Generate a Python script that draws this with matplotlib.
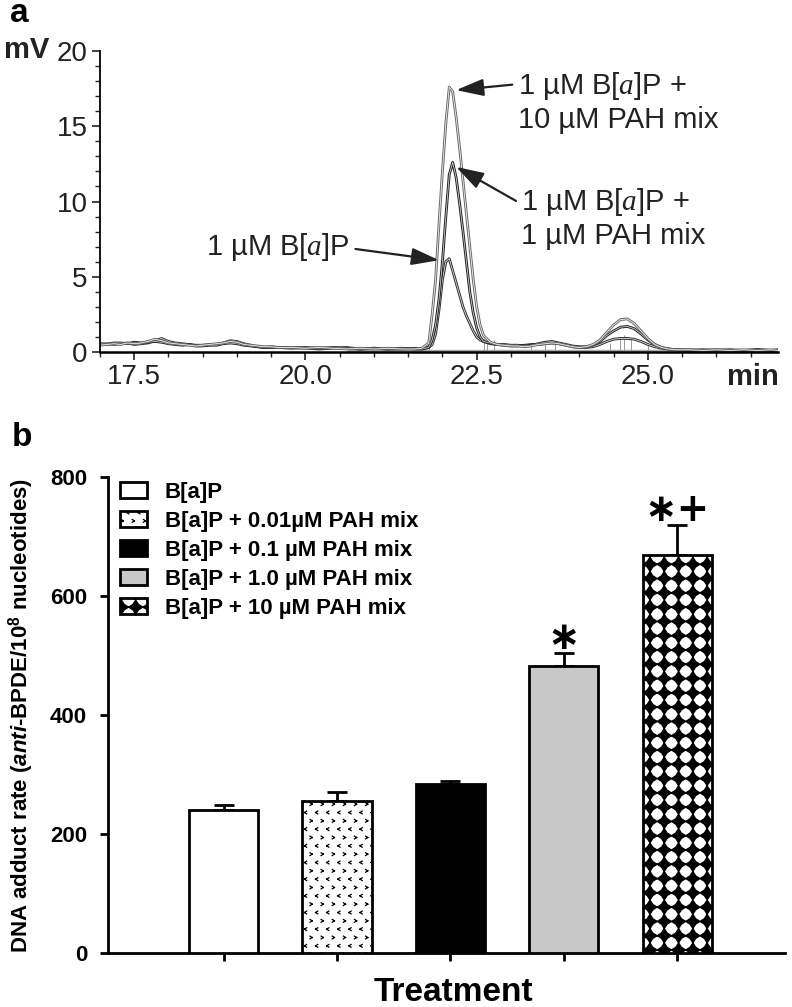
import warnings
import numpy as np
import matplotlib
matplotlib.use('Agg')
import matplotlib.pyplot as plt
import matplotlib.hatch as mhatch
from matplotlib.path import Path
from matplotlib.ticker import MultipleLocator
from matplotlib import font_manager

warnings.filterwarnings('ignore')

# ---------------- panel a: HPLC traces ----------------
time_min = [17.0, 17.1, 17.2, 17.3, 17.4, 17.5, 17.6, 17.7, 17.8, 17.9,
            18.0, 18.1, 18.2, 18.3, 18.4, 18.5, 18.6, 18.7, 18.8, 18.9,
            19.0, 19.1, 19.2, 19.3, 19.4, 19.5, 19.6,
            19.8, 20.0, 20.2, 20.4, 20.6, 20.8, 21.0, 21.2, 21.4, 21.6,
            21.7, 21.8,
            21.85, 21.9, 21.95, 22.0, 22.05, 22.1, 22.15, 22.2, 22.25, 22.3,
            22.35, 22.4, 22.45, 22.5, 22.55, 22.6,
            22.7, 22.8, 22.9, 23.0, 23.1, 23.2, 23.3, 23.4, 23.5, 23.6,
            23.7, 23.8, 23.9, 24.0, 24.1, 24.2, 24.3, 24.4, 24.5, 24.6,
            24.7, 24.8, 24.9, 25.0, 25.1, 25.2, 25.3, 25.4,
            25.6, 25.8, 26.0, 26.2, 26.4, 26.6, 26.8, 26.9]

mv_mix10 = [0.45, 0.5, 0.55, 0.5, 0.6, 0.55, 0.6, 0.7, 0.85, 0.75,
            0.6, 0.55, 0.5, 0.45, 0.4, 0.45, 0.5, 0.55, 0.6, 0.7,
            0.65, 0.5, 0.45, 0.4, 0.35, 0.35, 0.3,
            0.3, 0.25, 0.3, 0.25, 0.2, 0.25, 0.2, 0.25, 0.2, 0.2,
            0.25, 0.6,
            2.5, 4.8, 8.5, 12.0, 15.2, 17.6, 17.3, 15.6, 13.6, 11.4,
            9.2, 7.0, 4.8, 3.0, 1.8, 1.1,
            0.65, 0.5, 0.45, 0.4, 0.4, 0.35, 0.4, 0.5, 0.55, 0.6,
            0.55, 0.45, 0.35, 0.3, 0.35, 0.5, 0.8, 1.3, 1.8, 2.15,
            2.2, 1.9, 1.4, 0.9, 0.5, 0.3, 0.2, 0.15,
            0.15, 0.1, 0.15, 0.1, 0.15, 0.1, 0.15, 0.1]

mv_mix1 = [0.55, 0.5, 0.6, 0.6, 0.55, 0.65, 0.6, 0.65, 0.7, 0.65,
           0.55, 0.5, 0.45, 0.5, 0.4, 0.4, 0.45, 0.45, 0.55, 0.6,
           0.55, 0.45, 0.4, 0.35, 0.3, 0.3, 0.3,
           0.25, 0.3, 0.25, 0.3, 0.25, 0.2, 0.25, 0.2, 0.25, 0.2,
           0.2, 0.3,
           0.8, 1.8, 3.5, 6.0, 9.0, 11.8, 12.6, 11.6, 9.9, 8.0,
           6.0, 4.0, 2.6, 1.6, 1.0, 0.7,
           0.6, 0.5, 0.5, 0.45, 0.45, 0.4, 0.45, 0.55, 0.65, 0.7,
           0.6, 0.5, 0.4, 0.35, 0.35, 0.45, 0.7, 1.1, 1.4, 1.65,
           1.7, 1.55, 1.2, 0.8, 0.5, 0.3, 0.2, 0.15,
           0.1, 0.15, 0.1, 0.15, 0.1, 0.15, 0.1, 0.15]

mv_bap = [0.5, 0.55, 0.5, 0.55, 0.6, 0.5, 0.55, 0.6, 0.75, 0.9,
          0.7, 0.6, 0.55, 0.5, 0.45, 0.45, 0.5, 0.5, 0.6, 0.75,
          0.7, 0.55, 0.45, 0.35, 0.3, 0.35, 0.3,
          0.3, 0.25, 0.2, 0.25, 0.3, 0.2, 0.25, 0.2, 0.2, 0.25,
          0.2, 0.3,
          0.5, 1.2, 2.8, 4.8, 6.0, 6.2, 5.4, 4.6, 3.8, 3.0,
          2.4, 1.9, 1.4, 1.0, 0.8, 0.7,
          0.55, 0.5, 0.45, 0.4, 0.4, 0.45, 0.5, 0.5, 0.55, 0.6,
          0.55, 0.45, 0.35, 0.3, 0.3, 0.35, 0.5, 0.7, 0.85, 0.9,
          0.9, 0.85, 0.7, 0.5, 0.35, 0.25, 0.2, 0.15,
          0.15, 0.1, 0.15, 0.1, 0.1, 0.15, 0.1, 0.1]

# integration marks of the software
mark_t = [21.8, 22.6, 22.65, 22.75, 23.3, 23.5, 23.65, 24.45, 24.6, 24.65, 24.75, 25.0]
mark_h = [0.3, 0.9, 0.7, 0.8, 0.5, 0.6, 0.7, 0.6, 1.0, 1.1, 0.9, 0.5]

peak_labels = ['1 µM B[$\\mathit{a}$]P +\n10 µM PAH mix',
               '1 µM B[$\\mathit{a}$]P +\n1 µM PAH mix',
               '1 µM B[$\\mathit{a}$]P']

# ---------------- panel b: adduct rates ----------------
treatments = ['B[a]P', 'B[a]P + 0.01µM PAH mix', 'B[a]P + 0.1 µM PAH mix',
              'B[a]P + 1.0 µM PAH mix', 'B[a]P + 10 µM PAH mix']
adduct_mean = [240, 256, 284, 483, 669]
adduct_sem = [8, 15, 5, 21, 50]
signif = ['', '', '', '\u2217', '\u2217+']


# small custom fill patterns for the bars
class Chevrons(mhatch.HatchPatternBase):
    def __init__(self, hatch, density):
        self.cols, self.rows = 9, 12
        self.num_vertices = self.cols * self.rows * 4 if 'c' in hatch else 0

    def set_vertices_and_codes(self, vertices, codes):
        i = 0
        w, h = 0.011, 0.014
        for r in range(self.rows):
            y = (r + 0.5) / self.rows
            s = 1 if r % 2 else -1
            off = 0.5 if r % 2 else 0.0
            for c in range(self.cols):
                x = ((c + 0.5 + off) / self.cols) % 1.0
                tip = (x + s * w, y)
                vertices[i:i + 4] = [(x - s * w, y + h), tip, tip, (x - s * w, y - h)]
                codes[i:i + 4] = [Path.MOVETO, Path.LINETO, Path.MOVETO, Path.LINETO]
                i += 4


class Diamonds(mhatch.HatchPatternBase):
    def __init__(self, hatch, density):
        self.n = 7 if 'd' in hatch else 0
        self.shape = Path.unit_regular_star(4, 0.55)
        self.num_vertices = self.n * self.n * len(self.shape.vertices)

    def set_vertices_and_codes(self, vertices, codes):
        k = len(self.shape.vertices)
        v = self.shape.vertices * (0.5 / self.n)
        i = 0
        for r in range(self.n):
            for c in range(self.n):
                vertices[i:i + k] = v + [(c + 0.5) / self.n, (r + 0.5) / self.n]
                codes[i:i + k] = self.shape.codes
                i += k


mhatch._hatch_types.extend([Chevrons, Diamonds])

fills = ['white', 'white', 'black', '#c8c8c8', 'white']
hatches = ['', 'c', '', '', 'd']

# ---------------- fonts ----------------
plt.rcParams['font.family'] = ['Liberation Sans', 'DejaVu Sans']
plt.rcParams['mathtext.fontset'] = 'custom'
plt.rcParams['mathtext.rm'] = 'Liberation Sans:bold'
plt.rcParams['mathtext.it'] = 'Liberation Serif:italic'
plt.rcParams['mathtext.bf'] = 'Liberation Sans:bold:italic'
plt.rcParams['hatch.linewidth'] = 0.9

names = {f.name for f in font_manager.fontManager.ttflist}
narrow = 'Liberation Sans Narrow' if 'Liberation Sans Narrow' in names else 'Liberation Sans'
tick_a_size = 22 if narrow != 'Liberation Sans' else 20

fig = plt.figure(figsize=(7.92, 10.07), dpi=100)

# ================= panel a =================
ax = fig.add_axes([100 / 792, 1 - 352 / 1007, 678 / 792, 301 / 1007])
ax.hlines(0.06, 20.6, 26.9, color='#a8a8a8', lw=2.5, zorder=1)
ax.vlines(mark_t, 0, mark_h, color='#9a9a9a', lw=0.7, zorder=1)
for ys, dark, light in [(mv_bap, '#303030', '#d8d8d8'),
                        (mv_mix1, '#222222', '#cfcfcf'),
                        (mv_mix10, '#6a6a6a', '#f0f0f0')]:
    ax.plot(time_min, ys, color=dark, lw=2.0, zorder=2)
    ax.plot(time_min, ys, color=light, lw=0.6, zorder=2)

ax.set_xlim(17, 26.9)
ax.set_ylim(0, 20)
ax.set_xticks([17.5, 20.0, 22.5, 25.0], ['17.5', '20.0', '22.5', '25.0'])
ax.set_yticks([0, 5, 10, 15, 20])
ax.xaxis.set_minor_locator(MultipleLocator(0.5))
ax.yaxis.set_minor_locator(MultipleLocator(1))
for s in ['top', 'right']:
    ax.spines[s].set_visible(False)
ax.spines['left'].set_linewidth(1.3)
ax.spines['bottom'].set_linewidth(1.8)
ax.tick_params(which='major', length=6, width=1.2, pad=3, colors='#222222')
ax.tick_params(which='minor', length=3.5, width=1.0, colors='#222222')
for lbl in ax.get_xticklabels() + ax.get_yticklabels():
    lbl.set_fontfamily(narrow)
    lbl.set_fontsize(tick_a_size)
    lbl.set_color('#222222')

arrow = dict(arrowstyle='-|>,head_length=0.8,head_width=0.25', color='#222222',
             lw=1.6, shrinkA=2, shrinkB=0)
ax.annotate(peak_labels[0], xy=(22.2, 17.4), xytext=(23.1, 16.6),
            ha='left', va='center', fontsize=21, color='#222222',
            arrowprops=dict(arrow, relpos=(0, 0.78)))
ax.annotate(peak_labels[1], xy=(22.2, 12.3), xytext=(23.15, 8.9),
            ha='left', va='center', fontsize=21, color='#222222',
            arrowprops=dict(arrow, relpos=(0, 0.72)))
ax.annotate(peak_labels[2], xy=(21.95, 6.1), xytext=(20.65, 7.0),
            ha='right', va='center', fontsize=21, color='#222222',
            arrowprops=dict(arrow, relpos=(1, 0.45)))

fig.text(27 / 792, 1 - 50 / 1007, 'mV', ha='center', va='center',
         fontsize=21, fontweight='bold', color='#222222')
fig.text(753 / 792, 1 - 377 / 1007, 'min', ha='center', va='center',
         fontsize=21, fontweight='bold', color='#222222')
fig.text(10 / 792, 1 - 14 / 1007, 'a', ha='left', va='center',
         fontsize=24, fontweight='bold')

# ================= panel b =================
bx = fig.add_axes([108 / 792, 1 - 953 / 1007, 677 / 792, 476 / 1007])
x = np.arange(len(treatments))
bars = bx.bar(x, adduct_mean, width=0.61, color=fills, edgecolor='black',
              linewidth=2, zorder=3)
for b, h, t in zip(bars, hatches, treatments):
    b.set_hatch(h)
    b.set_label(t)
bx.errorbar(x, adduct_mean, yerr=[np.zeros(len(x)), adduct_sem], fmt='none',
            ecolor='black', elinewidth=2, capsize=7, capthick=2, zorder=2)
for xi, m, e, s in zip(x, adduct_mean, adduct_sem, signif):
    if s:
        bx.annotate(s, (xi, m + e), xytext=(0, 3), textcoords='offset points',
                    ha='center', va='baseline', fontsize=28, fontweight='bold',
                    family='DejaVu Sans')

bx.set_xlim(-1.02, 4.95)
bx.set_ylim(0, 800)
bx.set_yticks([0, 200, 400, 600, 800])
bx.set_xticks(x, [''] * len(x))
for s in ['top', 'right']:
    bx.spines[s].set_visible(False)
for s in ['left', 'bottom']:
    bx.spines[s].set_linewidth(2)
bx.tick_params(length=6, width=2, pad=9, labelsize=16)
for lbl in bx.get_yticklabels():
    lbl.set_fontweight('bold')

bx.legend(handles=list(bars), loc='upper left', bbox_to_anchor=(0.018, 0.99),
          frameon=False, prop=dict(family='Liberation Sans', weight='bold', size=16),
          handlelength=1.2, handleheight=0.77, handletextpad=0.8,
          labelspacing=0.36, borderpad=0, borderaxespad=0)

bx.set_ylabel('DNA adduct rate ($\\mathbf{anti}$-BPDE/10$^{8}$ nucleotides)',
              fontsize=16, fontweight='bold')
bx.yaxis.label.set_va('center')
bx.yaxis.set_label_coords(-0.128, 0.5)
bx.set_xlabel('Treatment', fontsize=24, fontweight='bold')
bx.xaxis.label.set_va('center')
bx.xaxis.set_label_coords(0.51, -0.084)

fig.text(12 / 792, 1 - 437 / 1007, 'b', ha='left', va='center',
         fontsize=24, fontweight='bold')

fig.savefig('out.png', dpi=100)
